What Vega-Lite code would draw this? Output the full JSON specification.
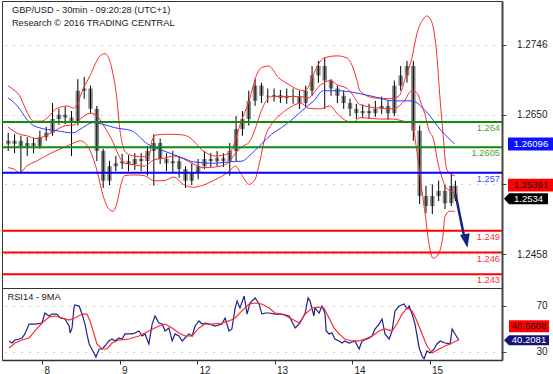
{
"$schema":"https://vega.github.io/schema/vega-lite/v6.json",
"padding":0,
"background":"white",
"spacing":0,
"bounds":"flush",
"config":{"font":"Liberation Sans","view":{"stroke":"#333","strokeWidth":1},"axis":{"labelFont":"Liberation Sans"}},
"datasets":{
"candles":[
{"t":-12,"o":1.2614,"h":1.2625,"l":1.2600,"c":1.2610},
{"t":-10,"o":1.2610,"h":1.2623,"l":1.2597,"c":1.2614},
{"t":-8,"o":1.2614,"h":1.2621,"l":1.2570,"c":1.2606},
{"t":-6,"o":1.2606,"h":1.2619,"l":1.2593,"c":1.2611},
{"t":-4,"o":1.2611,"h":1.2618,"l":1.2597,"c":1.2607},
{"t":-2,"o":1.2607,"h":1.2628,"l":1.2603,"c":1.2619},
{"t":0,"o":1.2619,"h":1.2633,"l":1.2614,"c":1.2625},
{"t":2,"o":1.2625,"h":1.2666,"l":1.2621,"c":1.2644},
{"t":4,"o":1.2644,"h":1.2658,"l":1.2636,"c":1.2650},
{"t":6,"o":1.2650,"h":1.2661,"l":1.2637,"c":1.2646},
{"t":8,"o":1.2646,"h":1.2655,"l":1.2593,"c":1.2639},
{"t":10,"o":1.2639,"h":1.2699,"l":1.2635,"c":1.2683},
{"t":12,"o":1.2683,"h":1.2702,"l":1.2672,"c":1.2686},
{"t":14,"o":1.2686,"h":1.2690,"l":1.2652,"c":1.2658},
{"t":16,"o":1.2658,"h":1.2662,"l":1.2586,"c":1.2600},
{"t":18,"o":1.2600,"h":1.2603,"l":1.2549,"c":1.2559},
{"t":20,"o":1.2559,"h":1.2586,"l":1.2553,"c":1.2579},
{"t":22,"o":1.2579,"h":1.2593,"l":1.2572,"c":1.2583},
{"t":24,"o":1.2583,"h":1.2596,"l":1.2575,"c":1.2586},
{"t":26,"o":1.2586,"h":1.2594,"l":1.2572,"c":1.2582},
{"t":28,"o":1.2582,"h":1.2597,"l":1.2574,"c":1.2589},
{"t":30,"o":1.2589,"h":1.2597,"l":1.2572,"c":1.2586},
{"t":32,"o":1.2586,"h":1.2607,"l":1.2566,"c":1.2600},
{"t":34,"o":1.2600,"h":1.2623,"l":1.2552,"c":1.2611},
{"t":36,"o":1.2611,"h":1.2617,"l":1.2582,"c":1.2589},
{"t":38,"o":1.2589,"h":1.2597,"l":1.2572,"c":1.2583},
{"t":40,"o":1.2583,"h":1.2600,"l":1.2570,"c":1.2586},
{"t":42,"o":1.2586,"h":1.2593,"l":1.2563,"c":1.2575},
{"t":44,"o":1.2575,"h":1.2579,"l":1.2549,"c":1.2559},
{"t":46,"o":1.2559,"h":1.2583,"l":1.2553,"c":1.2570},
{"t":48,"o":1.2570,"h":1.2589,"l":1.2561,"c":1.2579},
{"t":50,"o":1.2579,"h":1.2600,"l":1.2575,"c":1.2589},
{"t":52,"o":1.2589,"h":1.2597,"l":1.2578,"c":1.2586},
{"t":54,"o":1.2586,"h":1.2600,"l":1.2579,"c":1.2590},
{"t":56,"o":1.2590,"h":1.2597,"l":1.2578,"c":1.2586},
{"t":58,"o":1.2586,"h":1.2611,"l":1.2566,"c":1.2600},
{"t":60,"o":1.2600,"h":1.2648,"l":1.2586,"c":1.2630},
{"t":62,"o":1.2630,"h":1.2655,"l":1.2621,"c":1.2644},
{"t":64,"o":1.2644,"h":1.2683,"l":1.2635,"c":1.2669},
{"t":66,"o":1.2669,"h":1.2699,"l":1.2662,"c":1.2690},
{"t":68,"o":1.2690,"h":1.2694,"l":1.2666,"c":1.2676},
{"t":70,"o":1.2676,"h":1.2686,"l":1.2666,"c":1.2675},
{"t":72,"o":1.2675,"h":1.2686,"l":1.2668,"c":1.2677},
{"t":74,"o":1.2677,"h":1.2684,"l":1.2666,"c":1.2673},
{"t":76,"o":1.2673,"h":1.2686,"l":1.2665,"c":1.2676},
{"t":78,"o":1.2676,"h":1.2686,"l":1.2665,"c":1.2675},
{"t":80,"o":1.2675,"h":1.2683,"l":1.2658,"c":1.2666},
{"t":82,"o":1.2666,"h":1.2690,"l":1.2661,"c":1.2683},
{"t":84,"o":1.2683,"h":1.2717,"l":1.2676,"c":1.2704},
{"t":86,"o":1.2704,"h":1.2724,"l":1.2694,"c":1.2717},
{"t":88,"o":1.2717,"h":1.2728,"l":1.2658,"c":1.2697},
{"t":90,"o":1.2697,"h":1.2699,"l":1.2676,"c":1.2686},
{"t":92,"o":1.2686,"h":1.2690,"l":1.2666,"c":1.2676},
{"t":94,"o":1.2676,"h":1.2683,"l":1.2658,"c":1.2666},
{"t":96,"o":1.2666,"h":1.2672,"l":1.2648,"c":1.2658},
{"t":98,"o":1.2658,"h":1.2665,"l":1.2644,"c":1.2652},
{"t":100,"o":1.2652,"h":1.2664,"l":1.2646,"c":1.2655},
{"t":102,"o":1.2655,"h":1.2665,"l":1.2644,"c":1.2652},
{"t":104,"o":1.2652,"h":1.2669,"l":1.2647,"c":1.2658},
{"t":106,"o":1.2658,"h":1.2675,"l":1.2651,"c":1.2662},
{"t":108,"o":1.2662,"h":1.2669,"l":1.2643,"c":1.2652},
{"t":110,"o":1.2652,"h":1.2697,"l":1.2648,"c":1.2690},
{"t":112,"o":1.2690,"h":1.2717,"l":1.2683,"c":1.2704},
{"t":114,"o":1.2704,"h":1.2724,"l":1.2694,"c":1.2717},
{"t":116,"o":1.2717,"h":1.2724,"l":1.2614,"c":1.2628},
{"t":118,"o":1.2628,"h":1.2635,"l":1.2527,"c":1.2538},
{"t":120,"o":1.2538,"h":1.2552,"l":1.2514,"c":1.2524},
{"t":122,"o":1.2524,"h":1.2554,"l":1.2513,"c":1.2538},
{"t":124,"o":1.2538,"h":1.2559,"l":1.2531,"c":1.2545},
{"t":126,"o":1.2545,"h":1.2553,"l":1.2520,"c":1.2528},
{"t":128,"o":1.2528,"h":1.2570,"l":1.2524,"c":1.2552},
{"t":129.3,"o":1.2552,"h":1.2559,"l":1.2531,"c":1.2534}
],
"bands":[
{"s":"up","t":-12.1,"v":1.2690},{"s":"up","t":-10.8,"v":1.2686},{"s":"up","t":-8.4,"v":1.2676},{"s":"up","t":-6.2,"v":1.2655},{"s":"up","t":-4.0,"v":1.2641},{"s":"up","t":-1.5,"v":1.2641},{"s":"up","t":0.9,"v":1.2648},{"s":"up","t":3.1,"v":1.2658},{"s":"up","t":6.8,"v":1.2662},{"s":"up","t":8.7,"v":1.2659},{"s":"up","t":9.9,"v":1.2665},{"s":"up","t":10.8,"v":1.2676},{"s":"up","t":12.4,"v":1.2692},{"s":"up","t":13.9,"v":1.2704},{"s":"up","t":15.5,"v":1.2720},{"s":"up","t":17.0,"v":1.2731},{"s":"up","t":18.6,"v":1.2734},{"s":"up","t":20.1,"v":1.2724},{"s":"up","t":21.1,"v":1.2706},{"s":"up","t":22.3,"v":1.2673},{"s":"up","t":23.2,"v":1.2632},{"s":"up","t":24.2,"v":1.2607},{"s":"up","t":25.4,"v":1.2597},{"s":"up","t":27.9,"v":1.2593},{"s":"up","t":31.0,"v":1.2592},{"s":"up","t":32.5,"v":1.2593},{"s":"up","t":33.4,"v":1.2614},{"s":"up","t":34.7,"v":1.2622},{"s":"up","t":38.7,"v":1.2623},{"s":"up","t":43.4,"v":1.2622},{"s":"up","t":45.5,"v":1.2618},{"s":"up","t":49.6,"v":1.2600},{"s":"up","t":53.6,"v":1.2593},{"s":"up","t":57.3,"v":1.2596},{"s":"up","t":58.8,"v":1.2603},{"s":"up","t":61.3,"v":1.2637},{"s":"up","t":64.1,"v":1.2669},{"s":"up","t":66.6,"v":1.2706},{"s":"up","t":68.1,"v":1.2715},{"s":"up","t":70.3,"v":1.2717},{"s":"up","t":73.4,"v":1.2701},{"s":"up","t":76.5,"v":1.2692},{"s":"up","t":78.4,"v":1.2687},{"s":"up","t":81.5,"v":1.2683},{"s":"up","t":82.7,"v":1.2687},{"s":"up","t":84.5,"v":1.2706},{"s":"up","t":86.7,"v":1.2724},{"s":"up","t":87.6,"v":1.2728},{"s":"up","t":92.0,"v":1.2731},{"s":"up","t":95.1,"v":1.2728},{"s":"up","t":96.9,"v":1.2715},{"s":"up","t":98.2,"v":1.2697},{"s":"up","t":99.1,"v":1.2683},{"s":"up","t":103.7,"v":1.2673},{"s":"up","t":109.0,"v":1.2672},{"s":"up","t":111.5,"v":1.2676},{"s":"up","t":113.7,"v":1.2704},{"s":"up","t":115.5,"v":1.2727},{"s":"up","t":117.1,"v":1.2761},{"s":"up","t":119.2,"v":1.2782},{"s":"up","t":120.2,"v":1.2786},{"s":"up","t":121.7,"v":1.2779},{"s":"up","t":123.3,"v":1.2738},{"s":"up","t":124.5,"v":1.2669},{"s":"up","t":125.4,"v":1.2623},{"s":"up","t":126.4,"v":1.2577},{"s":"up","t":127.3,"v":1.2570},{"s":"up","t":129.1,"v":1.2566},
{"s":"mid","t":-12.1,"v":1.2633},{"s":"mid","t":-8.4,"v":1.2623},{"s":"mid","t":-6.2,"v":1.2621},{"s":"mid","t":-3.1,"v":1.2617},{"s":"mid","t":1.5,"v":1.2625},{"s":"mid","t":6.2,"v":1.2635},{"s":"mid","t":8.7,"v":1.2636},{"s":"mid","t":10.8,"v":1.2644},{"s":"mid","t":13.9,"v":1.2652},{"s":"mid","t":16.1,"v":1.2648},{"s":"mid","t":18.0,"v":1.2636},{"s":"mid","t":19.8,"v":1.2623},{"s":"mid","t":21.1,"v":1.2612},{"s":"mid","t":22.3,"v":1.2600},{"s":"mid","t":23.5,"v":1.2589},{"s":"mid","t":24.8,"v":1.2583},{"s":"mid","t":27.9,"v":1.2581},{"s":"mid","t":31.0,"v":1.2579},{"s":"mid","t":34.1,"v":1.2588},{"s":"mid","t":37.2,"v":1.2590},{"s":"mid","t":40.3,"v":1.2593},{"s":"mid","t":43.4,"v":1.2589},{"s":"mid","t":46.5,"v":1.2582},{"s":"mid","t":49.6,"v":1.2577},{"s":"mid","t":53.6,"v":1.2578},{"s":"mid","t":57.3,"v":1.2583},{"s":"mid","t":59.8,"v":1.2597},{"s":"mid","t":61.9,"v":1.2606},{"s":"mid","t":64.1,"v":1.2612},{"s":"mid","t":66.0,"v":1.2630},{"s":"mid","t":67.5,"v":1.2650},{"s":"mid","t":69.1,"v":1.2666},{"s":"mid","t":71.2,"v":1.2675},{"s":"mid","t":74.3,"v":1.2675},{"s":"mid","t":77.4,"v":1.2675},{"s":"mid","t":80.5,"v":1.2675},{"s":"mid","t":82.7,"v":1.2673},{"s":"mid","t":86.7,"v":1.2691},{"s":"mid","t":89.8,"v":1.2697},{"s":"mid","t":92.0,"v":1.2691},{"s":"mid","t":95.1,"v":1.2686},{"s":"mid","t":96.9,"v":1.2677},{"s":"mid","t":99.1,"v":1.2664},{"s":"mid","t":105.3,"v":1.2659},{"s":"mid","t":109.3,"v":1.2658},{"s":"mid","t":113.0,"v":1.2668},{"s":"mid","t":115.5,"v":1.2683},{"s":"mid","t":117.1,"v":1.2680},{"s":"mid","t":118.6,"v":1.2664},{"s":"mid","t":119.9,"v":1.2647},{"s":"mid","t":120.8,"v":1.2630},{"s":"mid","t":122.3,"v":1.2617},{"s":"mid","t":123.9,"v":1.2581},{"s":"mid","t":125.4,"v":1.2559},{"s":"mid","t":126.0,"v":1.2552},{"s":"mid","t":127.6,"v":1.2545},{"s":"mid","t":129.1,"v":1.2542},
{"s":"lo","t":-12.1,"v":1.2577},{"s":"lo","t":-10.2,"v":1.2575},{"s":"lo","t":-8.4,"v":1.2570},{"s":"lo","t":-6.2,"v":1.2579},{"s":"lo","t":-3.1,"v":1.2586},{"s":"lo","t":1.5,"v":1.2597},{"s":"lo","t":6.2,"v":1.2606},{"s":"lo","t":8.7,"v":1.2611},{"s":"lo","t":10.8,"v":1.2614},{"s":"lo","t":13.9,"v":1.2600},{"s":"lo","t":16.1,"v":1.2572},{"s":"lo","t":18.0,"v":1.2538},{"s":"lo","t":19.8,"v":1.2520},{"s":"lo","t":21.1,"v":1.2517},{"s":"lo","t":22.3,"v":1.2527},{"s":"lo","t":23.5,"v":1.2552},{"s":"lo","t":24.8,"v":1.2566},{"s":"lo","t":27.9,"v":1.2567},{"s":"lo","t":31.0,"v":1.2566},{"s":"lo","t":34.1,"v":1.2559},{"s":"lo","t":37.2,"v":1.2559},{"s":"lo","t":40.3,"v":1.2564},{"s":"lo","t":43.4,"v":1.2554},{"s":"lo","t":46.5,"v":1.2550},{"s":"lo","t":49.6,"v":1.2553},{"s":"lo","t":53.6,"v":1.2561},{"s":"lo","t":57.3,"v":1.2570},{"s":"lo","t":59.8,"v":1.2579},{"s":"lo","t":61.9,"v":1.2566},{"s":"lo","t":64.1,"v":1.2554},{"s":"lo","t":66.0,"v":1.2561},{"s":"lo","t":67.5,"v":1.2586},{"s":"lo","t":69.1,"v":1.2618},{"s":"lo","t":71.2,"v":1.2637},{"s":"lo","t":74.3,"v":1.2651},{"s":"lo","t":77.4,"v":1.2661},{"s":"lo","t":80.5,"v":1.2666},{"s":"lo","t":82.7,"v":1.2659},{"s":"lo","t":86.7,"v":1.2658},{"s":"lo","t":89.8,"v":1.2662},{"s":"lo","t":92.0,"v":1.2651},{"s":"lo","t":95.1,"v":1.2641},{"s":"lo","t":96.9,"v":1.2639},{"s":"lo","t":99.1,"v":1.2646},{"s":"lo","t":105.3,"v":1.2644},{"s":"lo","t":109.3,"v":1.2644},{"s":"lo","t":113.0,"v":1.2641},{"s":"lo","t":115.5,"v":1.2639},{"s":"lo","t":117.1,"v":1.2600},{"s":"lo","t":118.6,"v":1.2549},{"s":"lo","t":119.9,"v":1.2508},{"s":"lo","t":120.8,"v":1.2476},{"s":"lo","t":122.3,"v":1.2452},{"s":"lo","t":123.9,"v":1.2458},{"s":"lo","t":125.4,"v":1.2485},{"s":"lo","t":126.0,"v":1.2510},{"s":"lo","t":127.6,"v":1.2517},{"s":"lo","t":129.1,"v":1.2517}
],
"ma":[
{"t":-12.1,"v":1.2673},{"t":-10.8,"v":1.2669},{"t":-8.4,"v":1.2658},{"t":-6.2,"v":1.2644},{"t":-4.0,"v":1.2635},{"t":-2.2,"v":1.2632},{"t":3.1,"v":1.2628},{"t":8.4,"v":1.2625},{"t":11.5,"v":1.2632},{"t":14.6,"v":1.2639},{"t":17.7,"v":1.2637},{"t":21.7,"v":1.2632},{"t":26.9,"v":1.2628},{"t":31.9,"v":1.2610},{"t":37.2,"v":1.2600},{"t":43.4,"v":1.2590},{"t":46.5,"v":1.2585},{"t":52.6,"v":1.2583},{"t":57.9,"v":1.2585},{"t":61.9,"v":1.2586},{"t":64.1,"v":1.2593},{"t":68.1,"v":1.2610},{"t":71.2,"v":1.2623},{"t":74.3,"v":1.2632},{"t":78.4,"v":1.2646},{"t":81.5,"v":1.2658},{"t":84.5,"v":1.2669},{"t":87.6,"v":1.2683},{"t":92.0,"v":1.2683},{"t":99.1,"v":1.2679},{"t":105.3,"v":1.2673},{"t":109.3,"v":1.2669},{"t":115.5,"v":1.2669},{"t":119.9,"v":1.2655},{"t":124.8,"v":1.2628},{"t":129.1,"v":1.26096}
],
"levels":[{"v":1.264,"k":"g"},{"v":1.2605,"k":"g"},{"v":1.257,"k":"b"},{"v":1.249,"k":"r"},{"v":1.246,"k":"r"},{"v":1.243,"k":"r"}],
"rsi":[
{"t":-10.2,"v":39.6},{"t":-9.3,"v":37.8},{"t":-8.4,"v":40.4},{"t":-7.1,"v":41.3},{"t":-6.2,"v":42.2},{"t":-5.3,"v":45.7},{"t":-4.0,"v":54.3},{"t":-2.2,"v":54.3},{"t":0,"v":55.2},{"t":0.9,"v":63.9},{"t":2.2,"v":61.3},{"t":3.1,"v":63.0},{"t":4.6,"v":63.0},{"t":5.6,"v":59.6},{"t":7.1,"v":58.7},{"t":8.4,"v":52.6},{"t":8.7,"v":46.5},{"t":9.3,"v":50.9},{"t":9.9,"v":68.3},{"t":10.2,"v":70.9},{"t":11.5,"v":70.0},{"t":12.4,"v":63.0},{"t":13.3,"v":54.3},{"t":13.9,"v":45.7},{"t":14.6,"v":37.0},{"t":14.9,"v":35.2},{"t":16.1,"v":29.1},{"t":16.7,"v":25.7},{"t":17.7,"v":32.6},{"t":18.6,"v":32.6},{"t":19.5,"v":35.2},{"t":20.7,"v":39.6},{"t":21.7,"v":41.3},{"t":22.6,"v":39.6},{"t":23.8,"v":42.2},{"t":24.8,"v":41.3},{"t":25.7,"v":45.7},{"t":26.9,"v":45.7},{"t":27.9,"v":45.7},{"t":28.8,"v":46.5},{"t":30.0,"v":48.3},{"t":31.0,"v":43.9},{"t":31.9,"v":45.7},{"t":33.1,"v":37.0},{"t":34.1,"v":54.3},{"t":35.0,"v":61.3},{"t":36.2,"v":55.2},{"t":37.2,"v":54.3},{"t":38.1,"v":48.3},{"t":39.3,"v":50.9},{"t":40.3,"v":39.6},{"t":41.2,"v":45.7},{"t":42.4,"v":43.9},{"t":43.4,"v":39.6},{"t":44.3,"v":42.2},{"t":45.5,"v":45.7},{"t":46.5,"v":43.9},{"t":47.4,"v":52.6},{"t":48.6,"v":57.0},{"t":49.6,"v":54.3},{"t":50.5,"v":55.2},{"t":51.7,"v":54.3},{"t":53.6,"v":52.6},{"t":55.7,"v":54.3},{"t":56.7,"v":59.6},{"t":57.9,"v":48.3},{"t":58.8,"v":50.0},{"t":59.8,"v":68.3},{"t":60.4,"v":74.3},{"t":61.3,"v":68.3},{"t":62.6,"v":78.7},{"t":63.5,"v":63.0},{"t":64.4,"v":72.6},{"t":66.0,"v":77.0},{"t":67.2,"v":71.7},{"t":68.1,"v":63.0},{"t":69.1,"v":63.9},{"t":70.3,"v":63.9},{"t":72.2,"v":63.0},{"t":74.3,"v":63.0},{"t":76.5,"v":61.3},{"t":78.4,"v":50.9},{"t":79.9,"v":55.2},{"t":81.5,"v":63.9},{"t":82.4,"v":77.0},{"t":83.0,"v":74.3},{"t":84.2,"v":61.3},{"t":84.5,"v":68.3},{"t":85.8,"v":63.9},{"t":86.7,"v":70.0},{"t":87.6,"v":63.9},{"t":88.0,"v":48.3},{"t":88.9,"v":45.7},{"t":89.8,"v":46.5},{"t":90.7,"v":41.3},{"t":92.0,"v":39.6},{"t":92.9,"v":37.8},{"t":93.8,"v":39.6},{"t":95.1,"v":37.8},{"t":96.9,"v":39.6},{"t":98.2,"v":32.6},{"t":99.1,"v":39.6},{"t":101.3,"v":42.2},{"t":102.2,"v":43.9},{"t":103.1,"v":50.0},{"t":104.4,"v":54.3},{"t":105.3,"v":58.7},{"t":106.2,"v":45.7},{"t":107.5,"v":41.3},{"t":108.4,"v":48.3},{"t":109.3,"v":65.7},{"t":110.6,"v":70.0},{"t":112.1,"v":71.7},{"t":113.0,"v":67.4},{"t":113.7,"v":70.0},{"t":114.6,"v":63.0},{"t":115.5,"v":54.3},{"t":116.8,"v":33.5},{"t":117.7,"v":26.5},{"t":118.3,"v":23.9},{"t":119.2,"v":30.9},{"t":120.2,"v":29.1},{"t":121.4,"v":32.6},{"t":122.3,"v":37.0},{"t":123.3,"v":39.6},{"t":124.8,"v":37.8},{"t":126.4,"v":37.0},{"t":127.0,"v":50.0},{"t":127.9,"v":45.7},{"t":129.1,"v":40.2081}
],
"rsima":[
{"t":-10.2,"v":33.5},{"t":-8.4,"v":37.8},{"t":-6.2,"v":40.4},{"t":-4.0,"v":42.2},{"t":-2.2,"v":48.3},{"t":0,"v":55.2},{"t":2.2,"v":60.4},{"t":4.0,"v":61.3},{"t":6.2,"v":59.6},{"t":8.4,"v":57.8},{"t":10.2,"v":59.6},{"t":12.4,"v":63.0},{"t":13.9,"v":63.0},{"t":14.9,"v":57.0},{"t":16.1,"v":45.7},{"t":17.0,"v":37.0},{"t":18.6,"v":32.6},{"t":20.1,"v":32.6},{"t":21.7,"v":37.8},{"t":23.8,"v":40.4},{"t":26.9,"v":41.3},{"t":30.0,"v":43.9},{"t":33.1,"v":48.3},{"t":36.2,"v":52.6},{"t":38.1,"v":54.3},{"t":40.3,"v":50.9},{"t":42.4,"v":46.5},{"t":44.3,"v":43.9},{"t":46.5,"v":43.9},{"t":48.6,"v":50.9},{"t":50.5,"v":54.3},{"t":52.6,"v":54.3},{"t":55.7,"v":55.2},{"t":57.9,"v":57.0},{"t":59.8,"v":59.6},{"t":61.9,"v":65.7},{"t":64.1,"v":71.7},{"t":66.0,"v":72.6},{"t":68.1,"v":71.7},{"t":70.3,"v":68.3},{"t":72.2,"v":63.9},{"t":74.3,"v":63.0},{"t":77.4,"v":58.7},{"t":79.6,"v":55.2},{"t":81.5,"v":63.0},{"t":83.6,"v":68.3},{"t":85.8,"v":69.1},{"t":87.3,"v":68.3},{"t":88.9,"v":59.6},{"t":90.4,"v":50.9},{"t":92.0,"v":45.7},{"t":93.8,"v":41.3},{"t":96.0,"v":39.6},{"t":98.2,"v":39.6},{"t":100.0,"v":41.3},{"t":102.2,"v":43.9},{"t":104.4,"v":48.3},{"t":106.2,"v":50.0},{"t":108.4,"v":48.3},{"t":109.9,"v":54.3},{"t":111.5,"v":63.0},{"t":113.0,"v":68.3},{"t":114.6,"v":65.7},{"t":116.1,"v":57.0},{"t":117.7,"v":45.7},{"t":119.2,"v":35.2},{"t":120.8,"v":29.1},{"t":123.0,"v":32.6},{"t":124.8,"v":35.2},{"t":127.0,"v":37.8},{"t":129.1,"v":40.6608}
]
},
"vconcat":[
{
"width":500,"height":287,
"layer":[
{"data":{"name":"candles"},"mark":{"type":"bar","color":"#8a8a8a","width":4.5},
 "encoding":{
  "x":{"field":"t","type":"quantitative","scale":{"domain":[-12.39,142.44],"nice":false,"zero":false},"axis":null},
  "y":{"field":"o","type":"quantitative","title":null,"scale":{"domain":[1.24112,1.28066],"nice":false,"zero":false},
   "axis":{"orient":"right","values":[1.2458,1.2554,1.265,1.2746],"format":".4f","labelExpr":"abs(datum.value-1.2554)<0.00001 ? '' : datum.label","title":null,"grid":true,"gridColor":"#999","gridDash":[1,7],"gridWidth":1,"tickSize":4,"tickColor":"#444","domainColor":"#444","domainWidth":2,"labelAlign":"right","labelBaseline":"middle","labelPadding":41,"labelFontSize":10,"labelColor":"#222","labelFlush":false,"labelOverlap":false}},
  "y2":{"field":"c"}}},
{"data":{"name":"candles"},"mark":{"type":"rule","color":"#000","strokeWidth":1},
 "encoding":{
  "x":{"field":"t","type":"quantitative","scale":{"domain":[-12.39,142.44],"nice":false,"zero":false},"axis":null},
  "y":{"field":"h","type":"quantitative","title":null,"scale":{"domain":[1.24112,1.28066],"nice":false,"zero":false}},
  "y2":{"field":"l"}}},
{"data":{"name":"bands"},"mark":{"type":"line","color":"#ff2a2a","strokeWidth":1,"interpolate":"monotone"},
 "encoding":{
  "x":{"field":"t","type":"quantitative","scale":{"domain":[-12.39,142.44],"nice":false,"zero":false},"axis":null},
  "y":{"field":"v","type":"quantitative","title":null,"scale":{"domain":[1.24112,1.28066],"nice":false,"zero":false}},
  "detail":{"field":"s"}}},
{"data":{"name":"ma"},"mark":{"type":"line","color":"#2a3cff","strokeWidth":1,"interpolate":"monotone"},
 "encoding":{
  "x":{"field":"t","type":"quantitative","scale":{"domain":[-12.39,142.44],"nice":false,"zero":false},"axis":null},
  "y":{"field":"v","type":"quantitative","title":null,"scale":{"domain":[1.24112,1.28066],"nice":false,"zero":false}}}},
{"data":{"name":"levels"},"mark":{"type":"rule","strokeWidth":2},
 "encoding":{
  "y":{"field":"v","type":"quantitative","title":null,"scale":{"domain":[1.24112,1.28066],"nice":false,"zero":false}},
  "stroke":{"field":"k","type":"nominal","scale":{"domain":["g","b","r"],"range":["#0e8c0e","#0000ff","#ff0000"]},"legend":null}}},
{"data":{"name":"levels"},"mark":{"type":"text","align":"right","baseline":"top","fontSize":9.3,"xOffset":-2,"yOffset":2},
 "encoding":{
  "x":{"value":"width"},
  "y":{"field":"v","type":"quantitative","title":null,"scale":{"domain":[1.24112,1.28066],"nice":false,"zero":false}},
  "text":{"field":"v","type":"quantitative","format":".4~f"},
  "fill":{"field":"k","type":"nominal","scale":{"domain":["g","b","r"],"range":["#52a02a","#3a4cff","#ff3030"]},"legend":null}}},
{"data":{"values":[{"t":129.3,"v":1.2541},{"t":132.2,"v":1.2479}]},"mark":{"type":"line","color":"#16237e","strokeWidth":2.5},
 "encoding":{
  "x":{"field":"t","type":"quantitative","scale":{"domain":[-12.39,142.44],"nice":false,"zero":false},"axis":null},
  "y":{"field":"v","type":"quantitative","title":null,"scale":{"domain":[1.24112,1.28066],"nice":false,"zero":false}}}},
{"data":{"values":[{"t":132.7,"v":1.2476}]},"mark":{"type":"point","shape":"M-0.7,-1L0.7,-1L0,1Z","size":196,"filled":true,"color":"#16237e","opacity":1,"angle":-11},
 "encoding":{
  "x":{"field":"t","type":"quantitative","scale":{"domain":[-12.39,142.44],"nice":false,"zero":false},"axis":null},
  "y":{"field":"v","type":"quantitative","title":null,"scale":{"domain":[1.24112,1.28066],"nice":false,"zero":false}}}},
{"data":{"values":[{"t":-10.84,"v":1.27901,"txt":"GBP/USD - 30min - 09:20:28 (UTC+1)"},{"t":-10.84,"v":1.27728,"txt":"Research © 2016 TRADING CENTRAL"}]},
 "mark":{"type":"text","align":"left","baseline":"alphabetic","fontSize":9.3,"color":"#1a1a1a"},
 "encoding":{
  "x":{"field":"t","type":"quantitative","scale":{"domain":[-12.39,142.44],"nice":false,"zero":false},"axis":null},
  "y":{"field":"v","type":"quantitative","title":null,"scale":{"domain":[1.24112,1.28066],"nice":false,"zero":false}},
  "text":{"field":"txt"}}},
{"data":{"values":[{"v":1.26096}]},"mark":{"type":"point","shape":"M-1,-0.28H1V0.28H-1Z","size":2209,"filled":true,"color":"#0a14ff","opacity":1,"xOffset":29.5},
 "encoding":{"x":{"value":"width"},"y":{"field":"v","type":"quantitative","title":null,"scale":{"domain":[1.24112,1.28066],"nice":false,"zero":false}}}},
{"data":{"values":[{"v":1.26096}]},"mark":{"type":"text","color":"#ffffff","fontSize":9.5,"align":"center","baseline":"middle","xOffset":29},
 "encoding":{"x":{"value":"width"},"y":{"field":"v","type":"quantitative","title":null,"scale":{"domain":[1.24112,1.28066],"nice":false,"zero":false}},"text":{"field":"v","type":"quantitative","format":".5f"}}},
{"data":{"values":[{"v":1.25391}]},"mark":{"type":"point","shape":"M-1,-0.27H1V0.27H-1Z","size":2209,"filled":true,"color":"#ff0000","opacity":1,"xOffset":29.5,"yOffset":-10},
 "encoding":{"x":{"value":"width"},"y":{"field":"v","type":"quantitative","title":null,"scale":{"domain":[1.24112,1.28066],"nice":false,"zero":false}}}},
{"data":{"values":[{"v":1.25391}]},"mark":{"type":"text","color":"#111","fontSize":9.5,"align":"center","baseline":"middle","xOffset":29,"yOffset":-10},
 "encoding":{"x":{"value":"width"},"y":{"field":"v","type":"quantitative","title":null,"scale":{"domain":[1.24112,1.28066],"nice":false,"zero":false}},"text":{"field":"v","type":"quantitative","format":".5f"}}},
{"data":{"values":[{"v":1.2534}]},"mark":{"type":"point","shape":"M-1,0L-0.77,-0.25H1V0.25H-0.77Z","size":1936,"filled":true,"color":"#000000","opacity":1,"xOffset":24},
 "encoding":{"x":{"value":"width"},"y":{"field":"v","type":"quantitative","title":null,"scale":{"domain":[1.24112,1.28066],"nice":false,"zero":false}}}},
{"data":{"values":[{"v":1.2534}]},"mark":{"type":"text","color":"#ffffff","fontSize":9.5,"align":"center","baseline":"middle","xOffset":26.5},
 "encoding":{"x":{"value":"width"},"y":{"field":"v","type":"quantitative","title":null,"scale":{"domain":[1.24112,1.28066],"nice":false,"zero":false}},"text":{"field":"v","type":"quantitative","format":".4f"}}}
]
},
{
"width":500,"height":72,
"layer":[
{"data":{"name":"rsi"},"mark":{"type":"line","color":"#20208c","strokeWidth":1.2},
 "encoding":{
  "x":{"field":"t","type":"quantitative","title":null,"scale":{"domain":[-12.39,142.44],"nice":false,"zero":false},
   "axis":{"values":[0,24,48,72,96,120],"labelExpr":"datum.value==0?'8':datum.value==24?'9':datum.value==48?'12':datum.value==72?'13':datum.value==96?'14':'15'","title":null,"grid":false,"tickSize":4,"tickColor":"#333","domainColor":"#333","domainWidth":1.5,"labelAlign":"left","labelOffset":2,"labelPadding":1,"labelBaseline":"top","labelFontSize":10,"labelColor":"#222","labelFlush":false,"labelOverlap":false}},
  "y":{"field":"v","type":"quantitative","title":null,"scale":{"domain":[23.04,85.65],"nice":false,"zero":false},
   "axis":{"orient":"right","values":[30,50,70],"labelExpr":"datum.value==50?'':datum.label","title":null,"grid":true,"gridColor":"#999","gridDash":[1,7],"tickSize":4,"tickColor":"#444","domainColor":"#444","domainWidth":2,"labelAlign":"right","labelBaseline":"middle","labelPadding":41,"labelFontSize":10,"labelColor":"#222","labelFlush":false,"labelOverlap":false}}}},
{"data":{"name":"rsima"},"mark":{"type":"line","color":"#ff2a2a","strokeWidth":1.2},
 "encoding":{
  "x":{"field":"t","type":"quantitative","title":null,"scale":{"domain":[-12.39,142.44],"nice":false,"zero":false}},
  "y":{"field":"v","type":"quantitative","title":null,"scale":{"domain":[23.04,85.65],"nice":false,"zero":false}}}},
{"data":{"values":[{"t":-10.7,"v":75.2,"txt":"RSI14 - 9MA"}]},"mark":{"type":"text","align":"left","baseline":"alphabetic","fontSize":9.3,"color":"#1a1a1a"},
 "encoding":{
  "x":{"field":"t","type":"quantitative","title":null,"scale":{"domain":[-12.39,142.44],"nice":false,"zero":false}},
  "y":{"field":"v","type":"quantitative","title":null,"scale":{"domain":[23.04,85.65],"nice":false,"zero":false}},
  "text":{"field":"txt"}}},
{"data":{"values":[{"v":40.6608}]},"mark":{"type":"point","shape":"M-1,-0.3H1V0.3H-1Z","size":1600,"filled":true,"color":"#ff0000","opacity":1,"xOffset":27,"yOffset":-13.5},
 "encoding":{"x":{"value":"width"},"y":{"field":"v","type":"quantitative","title":null,"scale":{"domain":[23.04,85.65],"nice":false,"zero":false}}}},
{"data":{"values":[{"v":40.6608}]},"mark":{"type":"text","color":"#111","fontSize":9.5,"align":"center","baseline":"middle","xOffset":27,"yOffset":-13.5},
 "encoding":{"x":{"value":"width"},"y":{"field":"v","type":"quantitative","title":null,"scale":{"domain":[23.04,85.65],"nice":false,"zero":false}},"text":{"field":"v","type":"quantitative","format":".4f"}}},
{"data":{"values":[{"v":40.2081}]},"mark":{"type":"point","shape":"M-1,0L-0.78,-0.22H1V0.22H-0.78Z","size":2025,"filled":true,"color":"#141478","opacity":1,"xOffset":24.5},
 "encoding":{"x":{"value":"width"},"y":{"field":"v","type":"quantitative","title":null,"scale":{"domain":[23.04,85.65],"nice":false,"zero":false}}}},
{"data":{"values":[{"v":40.2081}]},"mark":{"type":"text","color":"#ffffff","fontSize":9.5,"align":"center","baseline":"middle","xOffset":27},
 "encoding":{"x":{"value":"width"},"y":{"field":"v","type":"quantitative","title":null,"scale":{"domain":[23.04,85.65],"nice":false,"zero":false}},"text":{"field":"v","type":"quantitative","format":".4f"}}}
]
}
]
}
